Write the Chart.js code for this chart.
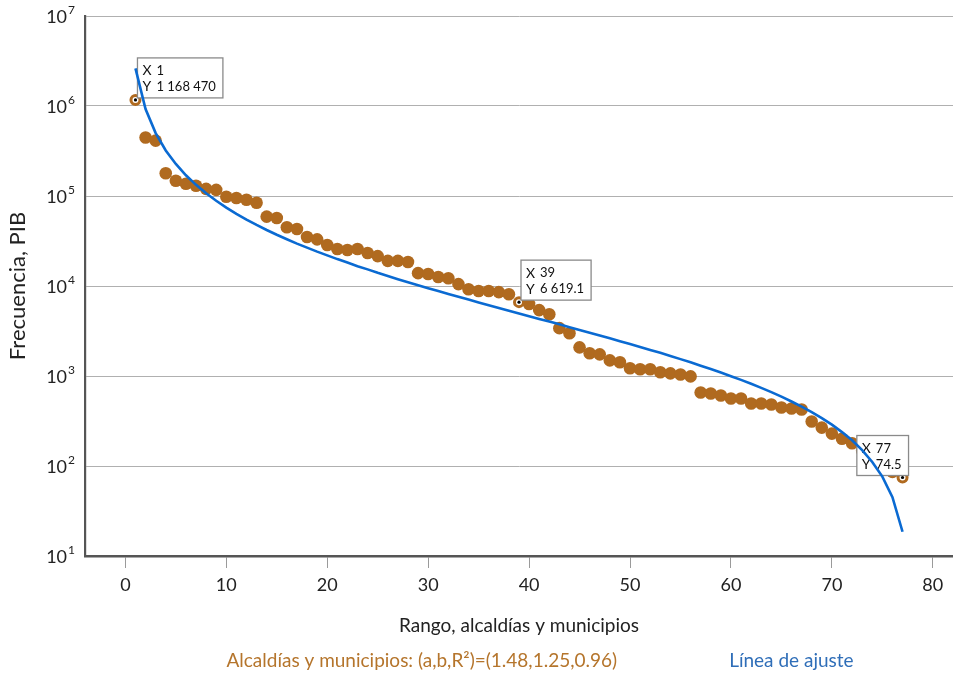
<!DOCTYPE html>
<html lang="es">
<head>
<meta charset="UTF-8">
<title>Rango-tamaño del PIB, alcaldías y municipios</title>
<script src="https://cdn.jsdelivr.net/npm/chart.js"></script>
<style>
    html, body { margin: 0; padding: 0; background: #fff; }
    .chart-container { width: 953px; height: 674px; position: relative; }
</style>
</head>
<body>
<div class="chart-container"><canvas id="rankChart"></canvas></div>
<script>
// rango de cada alcaldía / municipio
const ranks = [1, 2, 3, 4, 5, 6, 7, 8, 9, 10, 11, 12, 13, 14, 15, 16, 17, 18, 19, 20,
    21, 22, 23, 24, 25, 26, 27, 28, 29, 30, 31, 32, 33, 34, 35, 36, 37, 38, 39, 40,
    41, 42, 43, 44, 45, 46, 47, 48, 49, 50, 51, 52, 53, 54, 55, 56, 57, 58, 59, 60,
    61, 62, 63, 64, 65, 66, 67, 68, 69, 70, 71, 72, 73, 74, 75, 76, 77];

const pibValues = [1168470, 446000, 412000, 179000, 148000, 137000, 130000, 120000, 117000, 98000,
    95000, 91000, 84000, 59000, 57000, 45000, 43000, 35000, 33000, 28600,
    25800, 25100, 25800, 23300, 21500, 19000, 19000, 18500, 13900, 13600,
    12600, 12200, 10500, 9200, 8800, 8800, 8550, 8100, 6619.1, 6300,
    5400, 4860, 3400, 2990, 2080, 1790, 1740, 1490, 1420, 1220,
    1190, 1190, 1100, 1070, 1040, 990, 656, 640, 608, 563,
    563, 495, 495, 482, 447, 435, 425, 312, 267, 229,
    201, 179, 148, 125, 105, 86, 74.5];

// línea de ajuste
const fitValues = [2620000, 926000, 500000, 321000, 227000, 170000, 133000, 107400, 88600, 74400,
    63400, 54700, 47700, 41900, 37100, 33100, 29600, 26700, 24100, 21900,
    19900, 18200, 16600, 15300, 14000, 12900, 11900, 11000, 10200, 9470,
    8790, 8170, 7590, 7060, 6570, 6120, 5700, 5320, 4960, 4620,
    4310, 4020, 3750, 3490, 3250, 3030, 2820, 2630, 2440, 2270,
    2100, 1950, 1810, 1670, 1540, 1420, 1300, 1195, 1093, 996,
    905, 819, 738, 662, 589, 521, 457, 397, 341, 288,
    238, 193, 150, 111, 76.2, 45.1, 18.6];

const xTicks = [0, 10, 20, 30, 40, 50, 60, 70, 80];
const yTicks = [10, 100, 1000, 10000, 100000, 1000000, 10000000];
const yExponents = ['1', '2', '3', '4', '5', '6', '7'];

// puntos con etiqueta de dato
const labelledRanks = [1, 39, 77];

const FONT = 'Lato, "Open Sans", sans-serif';
const brown = '#B06A1F';
const blue = '#0A6AD2';

function groupDigits(v) {
    const parts = String(v).split('.');
    parts[0] = parts[0].replace(/\B(?=(\d{3})+(?!\d))/g, ' ');
    return parts.join('.');
}

// etiquetas 10^n del eje y
const powerLabels = {
    id: 'powerLabels',
    afterDraw(chart) {
        const ctx = chart.ctx;
        const y = chart.scales.y;
        ctx.save();
        ctx.fillStyle = '#222';
        ctx.textBaseline = 'middle';
        yTicks.forEach((v, i) => {
            const py = y.getPixelForValue(v);
            const right = y.right - 10;
            ctx.font = '12px ' + FONT;
            const ew = ctx.measureText(yExponents[i]).width;
            ctx.textAlign = 'right';
            ctx.fillText(yExponents[i], right, py - 6);
            ctx.font = '18px ' + FONT;
            ctx.fillText('10', right - ew - 1, py + 1);
        });
        ctx.restore();
    }
};

// recuadros "X / Y" sobre los puntos marcados
const dataTips = {
    id: 'dataTips',
    afterDatasetDraw(chart, args) {
        if (args.index !== 0) return;
        const ctx = chart.ctx;
        const xs = chart.scales.x, ys = chart.scales.y;
        ctx.save();
        labelledRanks.forEach(r => {
            const i = ranks.indexOf(r);
            const px = xs.getPixelForValue(r);
            const py = ys.getPixelForValue(pibValues[i]);
            ctx.font = '13px ' + FONT;
            const yText = groupDigits(pibValues[i]);
            const w = 19 + Math.max(ctx.measureText(String(r)).width, ctx.measureText(yText).width) + 7;
            const h = 40;
            let left = px + 2;
            if (left + w > chart.chartArea.right - 4) left = px + 6 - w;
            const top = py - 2 - h;
            ctx.fillStyle = '#fff';
            ctx.fillRect(left, top, w, h);
            ctx.strokeStyle = '#8a8a8a';
            ctx.lineWidth = 1.3;
            ctx.strokeRect(left, top, w, h);
            ctx.fillStyle = '#111';
            ctx.textBaseline = 'middle';
            ctx.textAlign = 'left';
            ctx.font = '14px ' + FONT;
            ctx.fillText('X', left + 5, top + 13);
            ctx.fillText('Y', left + 5, top + 29);
            ctx.font = '13px ' + FONT;
            ctx.fillText(String(r), left + 19, top + 13);
            ctx.fillText(yText, left + 19, top + 29);
            ctx.beginPath();
            ctx.arc(px, py, 1.6, 0, Math.PI * 2);
            ctx.fillStyle = '#000';
            ctx.fill();
        });
        ctx.restore();
    }
};

// leyenda en texto de color, sin cuadros
const textLegend = {
    id: 'textLegend',
    afterDraw(chart) {
        const ctx = chart.ctx;
        const items = chart.data.datasets.map(d => ({ text: d.label, color: d.legendColor }));
        ctx.save();
        ctx.font = '19px ' + FONT;
        ctx.textBaseline = 'middle';
        ctx.textAlign = 'left';
        const gap = 112;
        const widths = items.map(it => ctx.measureText(it.text).width);
        const total = widths.reduce((a, b) => a + b, 0) + gap * (items.length - 1);
        let x = 540 - total / 2;
        items.forEach((it, k) => {
            ctx.fillStyle = it.color;
            ctx.fillText(it.text, x, 661);
            x += widths[k] + gap;
        });
        ctx.restore();
    }
};

const ctx = document.getElementById('rankChart').getContext('2d');
new Chart(ctx, {
    type: 'scatter',
    data: {
        datasets: [{
            label: 'Alcaldías y municipios: (a,b,R²)=(1.48,1.25,0.96)',
            data: ranks.map((r, i) => ({ x: r, y: pibValues[i] })),
            order: 1,
            legendColor: '#B5752C',
            pointRadius: c => labelledRanks.includes(ranks[c.dataIndex]) ? 4.5 : 6.3,
            pointBackgroundColor: c => labelledRanks.includes(ranks[c.dataIndex]) ? '#fff' : brown,
            pointBorderColor: brown,
            pointBorderWidth: c => labelledRanks.includes(ranks[c.dataIndex]) ? 3 : 0,
            pointHoverRadius: 6.3
        }, {
            label: 'Línea de ajuste',
            data: ranks.map((r, i) => ({ x: r, y: fitValues[i] })),
            order: 0,
            legendColor: '#2F6EB8',
            showLine: true,
            borderColor: blue,
            borderWidth: 2.6,
            pointRadius: 0,
            tension: 0
        }]
    },
    options: {
        responsive: true,
        maintainAspectRatio: false,
        animation: false,
        layout: { autoPadding: false, padding: { top: 16, right: 0, bottom: 36, left: 0 } },
        plugins: {
            legend: { display: false },
            tooltip: { enabled: false }
        },
        scales: {
            x: {
                type: 'linear',
                min: -4,
                max: 82,
                afterBuildTicks: axis => { axis.ticks = xTicks.map(v => ({ value: v })); },
                afterFit: axis => {
                    axis.height = 82;
                    axis.paddingLeft = 0;
                    axis.paddingRight = 0;
                },
                grid: { drawOnChartArea: false, drawTicks: true, tickLength: 12, color: '#9a9a9a', lineWidth: 1 },
                border: { color: '#555', width: 2.5 },
                ticks: { color: '#222', font: { family: FONT, size: 18 }, padding: 6 },
                title: {
                    display: true,
                    text: 'Rango, alcaldías y municipios',
                    color: '#222',
                    font: { family: FONT, size: 19 },
                    padding: { top: 2, bottom: 1 }
                }
            },
            y: {
                type: 'logarithmic',
                min: 10,
                max: 10000000,
                afterBuildTicks: axis => { axis.ticks = yTicks.map(v => ({ value: v })); },
                afterFit: axis => {
                    axis.width = 85;
                    axis.paddingTop = 0;
                    axis.paddingBottom = 0;
                },
                grid: { color: '#b0b0b0', lineWidth: 1, drawTicks: false },
                border: { color: '#555', width: 2.2 },
                ticks: { display: false },
                title: {
                    display: true,
                    text: 'Frecuencia, PIB',
                    color: '#222',
                    font: { family: FONT, size: 22 },
                    padding: { top: 5, bottom: 0 }
                }
            }
        }
    },
    plugins: [powerLabels, dataTips, textLegend]
});
</script>
</body>
</html>
